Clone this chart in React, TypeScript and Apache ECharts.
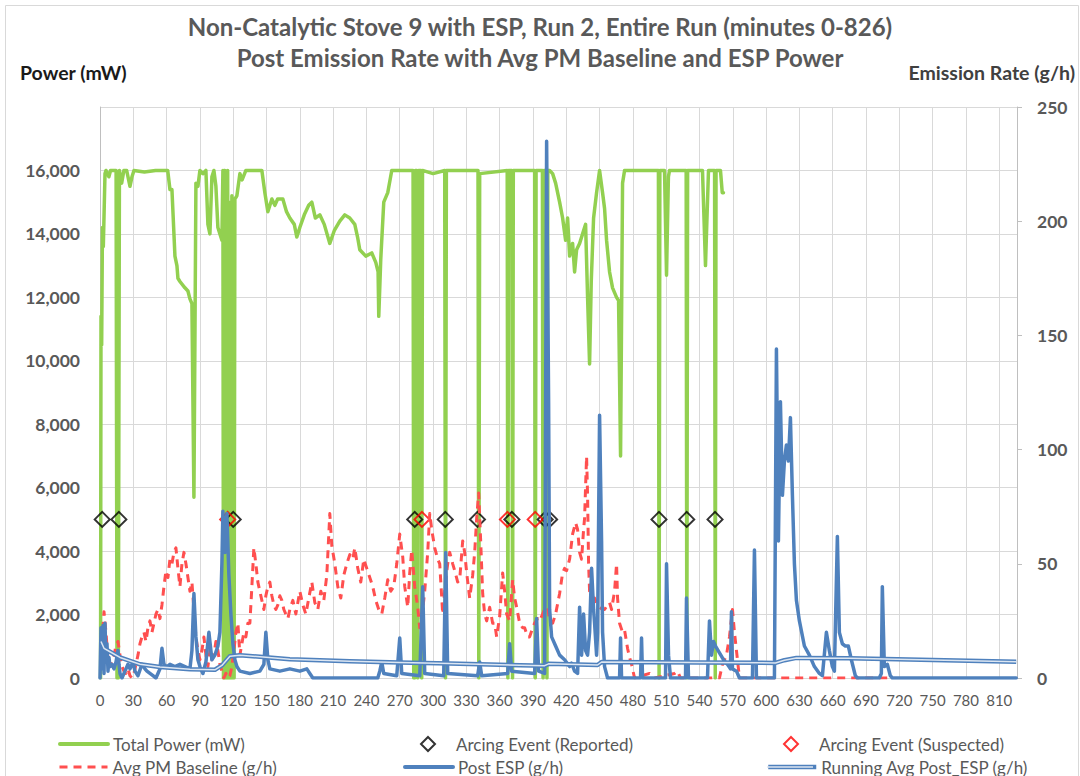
import React, { useEffect, useRef } from "react";
import * as echarts from "echarts";

const titleLines = [
  "Non-Catalytic Stove 9 with ESP, Run 2, Entire Run (minutes 0-826)",
  "Post Emission Rate with Avg PM Baseline and ESP Power",
];

// Total Power (mW) [minute, mW]
const totalPower: number[][] = [
  [0.5, 0], [0.9, 11400], [1.5, 10500], [2.2, 14200], [3, 13600], [4.5, 15900], [5.4, 16000],
  [8, 15800], [9.5, 16000], [14.5, 16000], [15.3, 0], [16.5, 0], [17.5, 16000], [19.5, 15600],
  [21.5, 16000], [24, 16000], [27, 15500], [28.8, 15800], [30.6, 16000], [40, 15950], [50, 16000],
  [61, 16000], [63, 15400], [64.8, 15400], [67.5, 13300], [69.3, 13000], [70.2, 12600], [72, 12500],
  [76.5, 12300], [79.2, 12200], [81, 11950], [82.8, 11800], [84.6, 5700], [86.4, 15600], [88.2, 15500],
  [90, 16000], [92.7, 15900], [95.4, 16000], [97.2, 14300], [99, 14000], [100.8, 15800], [102.6, 16000],
  [104.4, 15500], [106.2, 14200], [108, 14000], [109.8, 13800],
  [110.7, 16000], [111.2, 0], [111.8, 16000], [112.5, 16000], [113, 0], [113.6, 15800], [114.3, 0],
  [115, 16000], [115.7, 0], [116.3, 15000], [117, 0], [117.6, 10200], [118.2, 0], [118.8, 15200],
  [119.5, 0], [120.2, 14800], [120.8, 0], [121.5, 15100],
  [123.3, 15200], [126, 15900], [128, 15700], [131.4, 16000], [145.8, 16000], [148.5, 15300],
  [151.2, 14700], [154.8, 15100], [157.5, 14900], [160, 15100], [164.7, 15100], [168, 14700],
  [171, 14500], [175, 14300], [177.3, 13900], [180, 14200], [184, 14600], [188, 14900], [190.8, 15000],
  [194, 14500], [198, 14600], [202, 14300], [207, 13700], [211, 14100], [216, 14400], [220.5, 14600],
  [225, 14500], [229.5, 14300], [232, 13900], [234, 13500], [239.4, 13300], [244.8, 13400],
  [248.4, 13100], [250.5, 12800], [251.1, 11400], [252.9, 13200], [255.6, 15000], [259.2, 15300],
  [262.8, 16000], [282, 16000], [282.6, 0], [283.5, 0], [284, 16000], [285.5, 16000], [286.2, 0],
  [287, 16000], [289.3, 16000], [289.8, 0], [290.5, 16000], [300, 15900], [310.5, 16000], [311.2, 0],
  [312, 16000], [340.5, 16000], [341.2, 0], [342, 15900], [366.8, 16000], [367.4, 0], [368, 16000],
  [371, 16000], [371.6, 0], [372.3, 16000], [391.5, 16000], [392.1, 0], [392.8, 16000], [398.5, 16000],
  [399.1, 0], [399.8, 16000], [402, 16000], [402.6, 0], [403.4, 16000], [405, 16000], [407.7, 15900],
  [410.4, 15600], [414, 15000], [416.7, 14500], [419.4, 13800], [421.2, 14500], [423, 13300],
  [425.7, 13700], [427.5, 12800], [429.3, 13500], [432, 13700], [434.7, 14000], [437.4, 14300],
  [439.2, 12000], [441, 9900], [442.5, 12500], [444.6, 14500], [447.3, 15300], [450, 16000],
  [452.7, 15300], [454.5, 14800], [456.3, 13800], [459, 12800], [461.7, 12300], [465.3, 12000],
  [467.1, 11900], [468.9, 7000], [470.7, 15600], [472.5, 16000], [503, 16000], [503.6, 0],
  [504.3, 16000], [508.5, 16000], [510.3, 12700], [512, 15800], [513, 16000], [528, 16000],
  [528.6, 0], [529.3, 16000], [542.7, 16000], [545.4, 13000], [548.1, 16000], [553.6, 16000],
  [554.2, 0], [554.9, 16000], [558.9, 16000], [560.5, 15300], [561.6, 15300],
];

// Arcing events (minutes), drawn at 5,000 mW
const arcLevel = 5000;
const arcReported = [2, 17, 120, 283.5, 311, 340, 371, 401, 405, 503.5, 528.5, 554];
const arcSuspected = [115, 290, 367, 392];

// Avg PM Baseline (g/h) [minute, g/h]
const avgPmBaseline: number[][] = [
  [0.9, 15], [2.7, 22], [3.6, 29], [5.4, 20], [7.2, 8], [9, 5], [10.8, 8], [12.6, 10], [14.4, 14],
  [16.2, 16], [18, 10], [19.8, 5], [21.6, 3], [23.4, 2], [25.2, 4], [27, 1], [28.8, 0], [30.6, 2],
  [32.4, 6], [34.2, 10], [36, 15], [37.8, 18], [39.6, 20], [41.4, 16], [43.2, 22], [45, 25],
  [46.8, 20], [48.6, 24], [50.4, 28], [52.2, 30], [54, 26], [55.8, 32], [57.6, 40], [59.4, 47],
  [61.2, 44], [63, 52], [64.8, 50], [66.6, 55], [68.4, 57], [70.2, 48], [72, 40], [73.8, 50],
  [75.6, 55], [77.4, 50], [79.2, 44], [81, 38], [82.8, 42], [84.6, 30], [86.4, 18], [88.2, 12],
  [90, 8], [91.8, 12], [93.6, 18], [95.4, 10], [97.2, 5], [99, 12], [100.8, 8], [102.6, 10],
  [104.4, 16], [106.2, 12], [108, 6], [109.8, 3], [111.6, 0], [113.4, 2], [115.2, 0], [117, 1],
  [118.8, 5], [120.6, 12], [122.4, 20], [124.2, 24], [126, 10], [127.8, 15], [129.6, 20], [131.4, 18],
  [133.2, 24], [135, 24], [136.8, 40], [138.6, 57], [140.4, 50], [142.2, 42], [144, 38], [145.8, 34],
  [147.6, 30], [149.4, 36], [151.2, 40], [153, 42], [154.8, 36], [156.6, 32], [158.4, 30], [160.2, 32],
  [162, 36], [163.8, 34], [165.6, 30], [167.4, 28], [169.2, 26], [171, 30], [173.7, 34], [176.4, 28],
  [180, 38], [182.7, 32], [185.4, 28], [188.1, 35], [190.8, 42], [193.5, 33], [196.2, 30], [198.9, 38],
  [201.6, 34], [204.3, 45], [207, 72], [208.8, 58], [211.5, 50], [214.2, 40], [216.9, 35], [219.6, 45],
  [222.3, 50], [225, 54], [227.7, 52], [229.5, 57], [232.2, 48], [234.9, 42], [237.6, 52], [240.3, 48],
  [243, 44], [245.7, 40], [248.4, 34], [251.1, 30], [253.8, 28], [256.5, 35], [259.2, 43], [261.9, 38],
  [264.6, 40], [267.3, 50], [270, 63], [272.7, 53], [274.5, 40], [277.2, 31], [279, 46], [280.8, 56],
  [283.5, 40], [286.2, 31], [288, 22], [290.7, 30], [292.5, 38], [295.2, 55], [297, 72], [298.8, 65],
  [301.5, 57], [304.2, 52], [306, 50], [308.7, 28], [311.4, 43], [313.2, 50], [315, 55], [317.7, 50],
  [319.5, 47], [322.2, 42], [324, 43], [326.7, 60], [328.5, 55], [330.3, 46], [333, 35], [335.7, 45],
  [337.5, 55], [339.3, 70], [341.1, 81], [342.9, 60], [344.7, 37], [346.5, 28], [348.3, 25], [351, 31],
  [353.7, 24], [355.5, 24], [357.3, 18], [360, 27], [362.7, 46], [364.5, 38], [366.3, 28], [369, 25],
  [371.7, 43], [373.5, 35], [375.3, 31], [378, 24], [380.7, 22], [382.5, 22], [385.2, 18], [387, 18],
  [389.7, 22], [391.5, 24], [394.2, 26], [396, 25], [398.7, 28], [400.5, 30], [403.2, 31], [405, 25],
  [407.7, 24], [410.4, 28], [414, 37], [416.7, 46], [418.5, 48], [420.3, 47], [423, 52], [425.7, 63],
  [428.4, 68], [430.2, 65], [432, 55], [433.8, 52], [435.6, 65], [436.5, 70], [437.4, 84], [438.3, 97],
  [439.2, 80], [440.1, 50], [441, 38], [443.7, 35], [445.5, 35], [448.2, 32], [450, 31], [452.7, 30],
  [454.5, 30], [457.2, 32], [459, 33], [460.8, 30], [463.5, 38], [465.3, 50], [466.2, 35], [468, 24],
  [470.7, 20], [472.5, 21], [475.2, 13], [477, 9], [478.8, 6], [481.5, 0], [495, 2], [499.5, 0],
  [517.5, 2], [520.2, 3], [522.9, 0], [558, 0], [560.7, 6], [564.3, 10], [567, 18], [569.7, 30],
  [571.5, 20], [573.3, 12], [576, 0], [713.7, 0],
];

// Post ESP (g/h) [minute, g/h]
const postEsp: number[][] = [
  [0, 0], [0.9, 22], [1.8, 4], [2.7, 23], [3.6, 2], [4.5, 24], [5.4, 8], [6.3, 15], [7.2, 3], [8.1, 9],
  [9, 5], [10.8, 6], [12.6, 4], [14.4, 7], [16.2, 12], [17.1, 6], [18, 2], [19.8, 0], [22.5, 3],
  [25.2, 6], [27, 4], [29.7, 7], [31.5, 3], [34.2, 1], [37.8, 6], [40.5, 4], [42.3, 3], [45, 2],
  [47.7, 1], [50.4, 0], [52.2, 2], [54, 4], [55.8, 13], [57.6, 6], [60.3, 5], [63, 6], [67.5, 5],
  [72, 6], [76.5, 5], [81, 4], [82.8, 12], [84.6, 37], [86.4, 18], [88.2, 8], [90, 5], [92.7, 2],
  [95.4, 7], [98.1, 20], [100.8, 8], [103.5, 10], [106.2, 14], [108, 20], [109.8, 50], [110.7, 73],
  [112.5, 55], [114.3, 72], [116.1, 45], [117.9, 28], [119.7, 15], [121.5, 8], [123.3, 5], [126, 3],
  [135, 2], [144, 3], [147.6, 6], [149.4, 20], [151.2, 8], [153, 4], [162, 3], [171, 4], [180, 3],
  [186.3, 4], [189, 2], [191.7, 0], [250.2, 0], [252, 3], [253.8, 7], [255.6, 2], [267.3, 1],
  [270, 17.5], [271.8, 2], [288, 1], [290.7, 40], [292.5, 2], [309.6, 1], [311.4, 55], [313.2, 2],
  [340.2, 1], [342, 7], [343.8, 1], [367.2, 2], [369, 15], [370.8, 3], [391.5, 2], [393.3, 26],
  [395.1, 3], [400.5, 2], [402.3, 235], [404.1, 120], [405, 30], [406.8, 18], [410.4, 14], [414, 10],
  [418.5, 8], [423, 5], [424.8, 6.5], [427.5, 3], [430.2, 2], [432, 31], [433.8, 10], [435.6, 28],
  [437.4, 12], [439.2, 10], [441, 20], [442.8, 48], [444.6, 30], [445.5, 24], [447.3, 10], [448.2, 20],
  [450, 115], [451.8, 60], [452.7, 20], [454.5, 5], [457.2, 0], [468, 0], [468.9, 17.5], [469.8, 0],
  [486.9, 0], [487.8, 17.5], [488.7, 0], [509.4, 0], [510.3, 50], [512.1, 10], [513.9, 0], [527.4, 0],
  [528.3, 35], [530.1, 0], [547.2, 0], [549, 25], [550.8, 10], [552.6, 16], [554.4, 14], [558, 11],
  [561.6, 8], [565.2, 6], [567.9, 4], [568.8, 29], [569.7, 4], [573.3, 3], [576, 0], [587.7, 0],
  [589.5, 56], [591.3, 0], [607.5, 0], [609.3, 144], [611.1, 60], [612.9, 121], [614.7, 80],
  [616.5, 95], [618.3, 102], [620.1, 95], [621.9, 114], [623.7, 80], [625.5, 50], [627.3, 34],
  [630, 25], [634.5, 14], [639, 10], [643.5, 5], [648, 2], [650.7, 1], [654.3, 20], [657, 12],
  [659.7, 5], [661.5, 3], [664.2, 62], [666, 20], [668.7, 15], [671.4, 14], [674.1, 14], [676.8, 8],
  [680.4, 1], [682.2, 0], [702, 0], [703.8, 2], [704.7, 40], [706.5, 5], [709.2, 6], [711.9, 1],
  [713.7, 0], [825.3, 0],
];

// Running Avg Post_ESP (g/h) [minute, g/h]
const runningAvg: number[][] = [
  [0.9, 16], [3.6, 13], [9, 11.5], [18, 9], [36, 6], [54, 4.8], [81, 3.8], [103.5, 3.6], [109.8, 5.5],
  [117, 9.5], [126, 10], [171, 8.2], [225, 7.3], [270, 6.8], [315, 6.3], [360, 5.8], [400.5, 5.4],
  [404.1, 6.2], [448.2, 5.7], [451.8, 7], [540, 6.8], [608.4, 6.6], [616.5, 7.8], [627.3, 8.8],
  [675, 8.6], [825.3, 7.1],
];

const xTicks = { min: 0, max: 826, interval: 30 };
const leftTicks = { min: 0, max: 18000, interval: 2000 };
const rightTicks = { min: 0, max: 250, interval: 50 };

const FONT = "Lato, 'Open Sans', sans-serif";
const GREY = "#595959";

export default function App() {
  const ref = useRef<HTMLDivElement>(null);
  useEffect(() => {
    document.body.style.margin = "0";
    const chart = echarts.init(ref.current!, undefined, { renderer: "svg" });
    const legendText = { color: GREY, fontSize: 17, fontFamily: FONT, lineHeight: 18 };
    const mkLegend = (left: number, top: number, item: any, iconW = 48, textPad = 0) => ({
      orient: "horizontal",
      left,
      top,
      padding: 0,
      itemWidth: iconW,
      itemHeight: 14,
      itemGap: 5,
      textStyle: { ...legendText, padding: [0, 0, 0, textPad] },
      data: [item],
    });
    const lineItem = (name: string, width: number) => ({
      name,
      itemStyle: { opacity: 0 },
      lineStyle: { width },
    });
    chart.setOption({
      animation: false,
      backgroundColor: "#ffffff",
      textStyle: { fontFamily: FONT },
      title: {
        text: titleLines.join("\n"),
        left: "center",
        top: 6,
        textStyle: {
          fontFamily: FONT,
          fontSize: 24,
          fontWeight: "bold",
          color: GREY,
          lineHeight: 31,
        },
      },
      grid: { left: 100, right: 63, top: 107, bottom: 98, containLabel: false },
      legend: [
        mkLegend(58, 735, lineItem("Total Power (mW)", 4)),
        mkLegend(58, 758, lineItem("Avg PM Baseline (g/h)", 3)),
        mkLegend(420, 735, { name: "Arcing Event (Reported)", icon: "diamond" }, 14, 16),
        mkLegend(403, 758, lineItem("Post ESP (g/h)", 4)),
        mkLegend(783, 735, { name: "Arcing Event (Suspected)", icon: "diamond" }, 14, 16),
        mkLegend(766, 758, lineItem("Running Avg Post_ESP (g/h)", 4.5)),
      ],
      xAxis: {
        type: "value",
        min: xTicks.min,
        max: xTicks.max,
        interval: xTicks.interval,
        axisLine: { show: true, lineStyle: { color: "#d9d9d9", width: 1 } },
        axisTick: { show: false },
        axisLabel: {
          color: GREY,
          fontSize: 15,
          fontFamily: FONT,
          margin: 14,
          showMaxLabel: false,
        },
        splitLine: { show: true, lineStyle: { color: "#d9d9d9", width: 1 } },
      },
      yAxis: [
        {
          type: "value",
          min: leftTicks.min,
          max: leftTicks.max,
          interval: leftTicks.interval,
          position: "left",
          axisLine: { show: true, lineStyle: { color: "#bfbfbf" } },
          axisTick: { show: false },
          axisLabel: {
            color: GREY,
            fontSize: 17.5,
            fontWeight: "bold",
            fontFamily: FONT,
            margin: 20,
            showMaxLabel: false,
            formatter: (v: number) => v.toLocaleString("en-US"),
          },
          splitLine: { show: true, lineStyle: { color: "#d9d9d9", width: 1 } },
        },
        {
          type: "value",
          min: rightTicks.min,
          max: rightTicks.max,
          interval: rightTicks.interval,
          position: "right",
          axisLine: { show: true, lineStyle: { color: "#bfbfbf" } },
          axisTick: { show: true, length: 5, lineStyle: { color: "#bfbfbf" } },
          axisLabel: {
            color: GREY,
            fontSize: 17.5,
            fontWeight: "bold",
            fontFamily: FONT,
            margin: 20,
          },
          splitLine: { show: false },
        },
      ],
      series: [
        {
          name: "Total Power (mW)",
          type: "line",
          yAxisIndex: 0,
          data: totalPower,
          showSymbol: false,
          symbol: "none",
          lineStyle: { color: "#92D050", width: 3.5, join: "round", cap: "round" },
          itemStyle: { color: "#92D050" },
          z: 2,
        },
        {
          name: "Arcing Event (Reported)",
          type: "scatter",
          yAxisIndex: 0,
          data: arcReported.map((m) => [m, arcLevel]),
          symbol: "diamond",
          symbolSize: 15,
          itemStyle: { color: "rgba(0,0,0,0)", borderColor: "#000000", borderWidth: 2 },
          z: 3,
        },
        {
          name: "Arcing Event (Suspected)",
          type: "scatter",
          yAxisIndex: 0,
          data: arcSuspected.map((m) => [m, arcLevel]),
          symbol: "diamond",
          symbolSize: 15,
          itemStyle: { color: "rgba(0,0,0,0)", borderColor: "#ff0000", borderWidth: 2 },
          z: 3,
        },
        {
          name: "Avg PM Baseline (g/h)",
          type: "line",
          yAxisIndex: 1,
          data: avgPmBaseline,
          showSymbol: false,
          symbol: "none",
          lineStyle: { color: "#ff4f4f", width: 3, type: [8, 6], join: "round" },
          itemStyle: { color: "#ff4f4f" },
          z: 4,
        },
        {
          name: "Post ESP (g/h)",
          type: "line",
          yAxisIndex: 1,
          data: postEsp,
          showSymbol: false,
          symbol: "none",
          lineStyle: { color: "#4F81BD", width: 3.5, join: "round", cap: "round" },
          itemStyle: { color: "#4F81BD" },
          z: 5,
        },
        {
          name: "Running Avg Post_ESP (g/h)",
          type: "line",
          yAxisIndex: 1,
          data: runningAvg,
          showSymbol: false,
          symbol: "none",
          lineStyle: { color: "#4F81BD", width: 4.5, join: "round" },
          itemStyle: { color: "#4F81BD" },
          z: 6,
        },
        {
          name: "Running Avg inner",
          type: "line",
          yAxisIndex: 1,
          data: runningAvg,
          showSymbol: false,
          symbol: "none",
          lineStyle: { color: "#dce6f2", width: 1.5, join: "round" },
          itemStyle: { color: "#dce6f2" },
          z: 7,
        },
      ],
      graphic: [
        {
          type: "rect",
          shape: { x: 5.5, y: 5.5, width: 1073, height: 790 },
          style: { fill: "none", stroke: "#d9d9d9", lineWidth: 1 },
          silent: true,
        },
        {
          type: "text",
          left: 20,
          top: 62,
          style: {
            text: "Power (mW)",
            fill: "#1a1a1a",
            fontSize: 19.5,
            fontWeight: "bold",
            fontFamily: FONT,
          },
        },
        {
          type: "text",
          right: 5,
          top: 62,
          style: {
            text: "Emission Rate (g/h)",
            fill: "#404040",
            fontSize: 19.5,
            fontWeight: "bold",
            fontFamily: FONT,
          },
        },
        {
          type: "line",
          shape: { x1: 767, y1: 767, x2: 813, y2: 767 },
          style: { stroke: "#dce6f2", lineWidth: 1.5 },
          z: 100,
          silent: true,
        },
      ],
    });
    return () => chart.dispose();
  }, []);
  return <div ref={ref} style={{ width: 1080, height: 776 }} />;
}
